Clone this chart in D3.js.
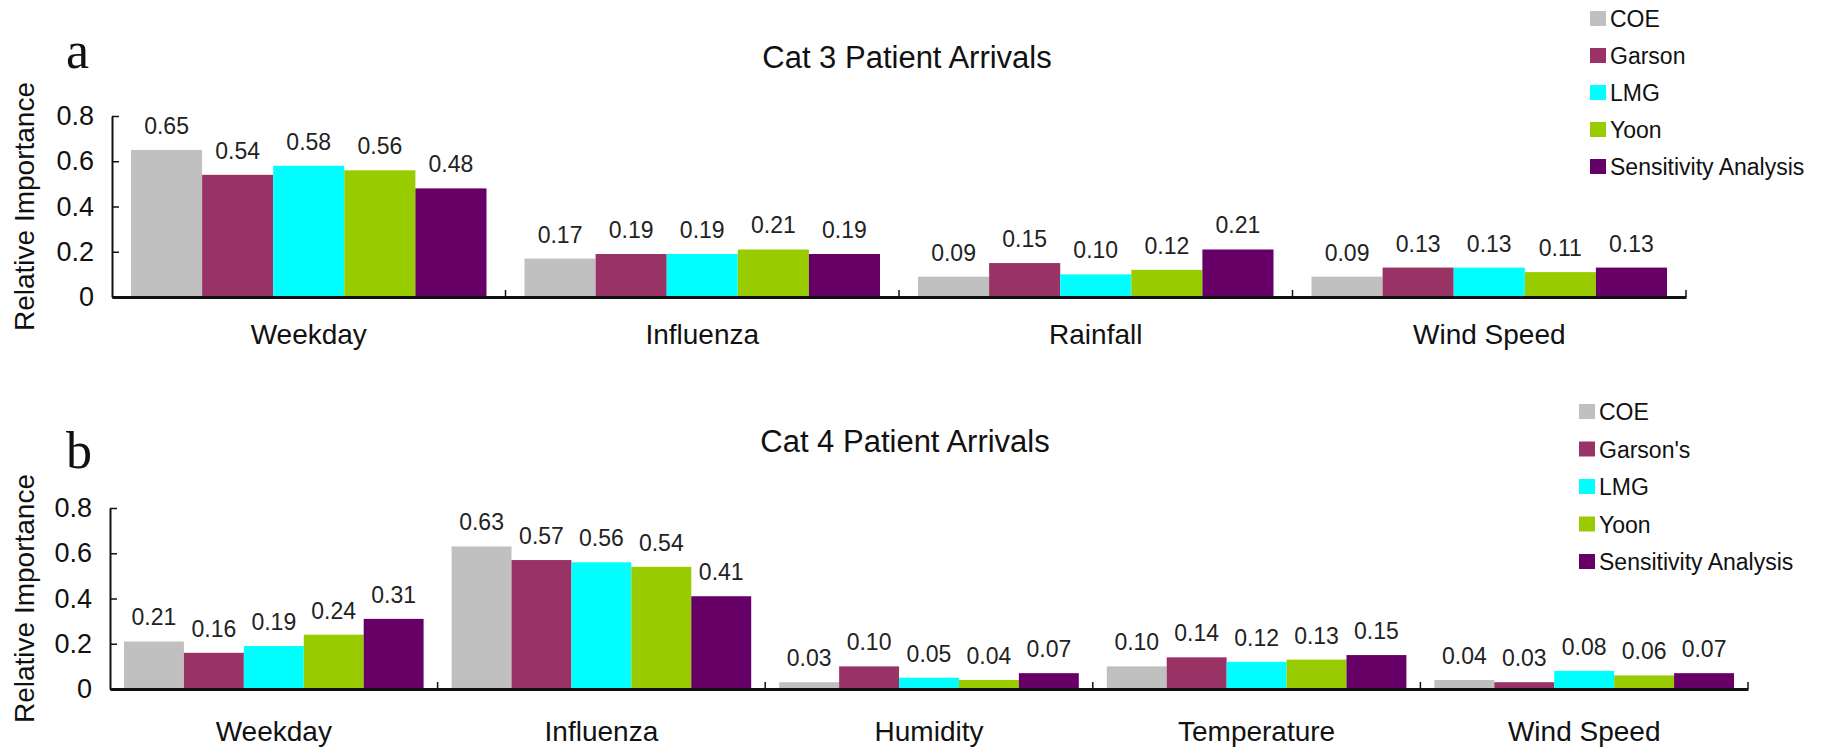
<!DOCTYPE html>
<html>
<head>
<meta charset="utf-8">
<script src="https://cdn.jsdelivr.net/npm/d3@7"></script>
<style>
  html, body { margin: 0; padding: 0; background: #fff; }
  svg { display: block; font-family: Arial, "Liberation Sans", sans-serif; }
</style>
</head>
<body>
<svg id="chart" width="1829" height="749"></svg>
<script>
// Relative importance of predictors, five methods, two arrival categories
const methods = ["COE", "Garson", "LMG", "Yoon", "Sensitivity Analysis"];
const methodsB = ["COE", "Garson's", "LMG", "Yoon", "Sensitivity Analysis"];
const methodColors = ["#c0c0c0", "#993366", "#00ffff", "#99cc00", "#660066"];
const yTicks = [0, 0.2, 0.4, 0.6, 0.8];

// Cat 3 patient arrivals
const cat3Factors = ["Weekday", "Influenza", "Rainfall", "Wind Speed"];
const cat3COE    = [0.65, 0.17, 0.09, 0.09];
const cat3Garson = [0.54, 0.19, 0.15, 0.13];
const cat3LMG    = [0.58, 0.19, 0.10, 0.13];
const cat3Yoon   = [0.56, 0.21, 0.12, 0.11];
const cat3SA     = [0.48, 0.19, 0.21, 0.13];

// Cat 4 patient arrivals
const cat4Factors = ["Weekday", "Influenza", "Humidity", "Temperature", "Wind Speed"];
const cat4COE    = [0.21, 0.63, 0.03, 0.10, 0.04];
const cat4Garson = [0.16, 0.57, 0.10, 0.14, 0.03];
const cat4LMG    = [0.19, 0.56, 0.05, 0.12, 0.08];
const cat4Yoon   = [0.24, 0.54, 0.04, 0.13, 0.06];
const cat4SA     = [0.31, 0.41, 0.07, 0.15, 0.07];

const svg = d3.select("#chart");
const fmt = d3.format(".2f");

function drawPanel(p) {
  const g = svg.append("g");
  const x = d3.scaleBand().domain(p.factors).range([p.x0, p.x1]).padding(0);
  const xi = d3.scaleBand().domain(d3.range(p.series.length))
    .range([p.pad, x.bandwidth() - p.pad]).padding(0);
  const y = d3.scaleLinear().domain([0, 0.8]).range([p.yBase, p.yTop]);

  // bars and value labels
  p.series.forEach((vals, si) => {
    const sg = g.append("g");
    sg.selectAll("rect").data(vals).join("rect")
      .attr("x", (d, i) => x(p.factors[i]) + xi(si))
      .attr("y", d => y(d))
      .attr("width", xi.bandwidth())
      .attr("height", d => y(0) - y(d))
      .attr("fill", methodColors[si]);
    sg.selectAll("text").data(vals).join("text")
      .attr("x", (d, i) => x(p.factors[i]) + xi(si) + xi.bandwidth() / 2)
      .attr("y", d => y(d) - 16)
      .attr("text-anchor", "middle")
      .attr("font-size", 23)
      .attr("fill", "#222")
      .text(d => fmt(d));
  });

  // y axis with inward ticks
  const yAxis = d3.axisLeft(y).tickValues(yTicks)
    .tickFormat(d => d === 0 ? "0" : d3.format(".1f")(d))
    .tickSizeInner(-7).tickSizeOuter(0).tickPadding(18);
  const ya = g.append("g").attr("transform", `translate(${p.x0},0)`).call(yAxis);
  ya.select(".domain").attr("stroke", "#111").attr("stroke-width", 2);
  ya.selectAll(".tick line").attr("stroke", "#111").attr("stroke-width", 1.5);
  ya.selectAll(".tick text").attr("font-size", 27).attr("fill", "#111")
    .attr("font-family", "Arial, 'Liberation Sans', sans-serif");

  // x axis: baseline, boundary ticks and category names
  const xAxis = d3.axisBottom(x).tickSize(0).tickPadding(0);
  const xa = g.append("g").attr("transform", `translate(0,${p.yBase})`).call(xAxis);
  xa.select(".domain").attr("stroke", "#111").attr("stroke-width", 3);
  xa.selectAll(".tick text")
    .attr("font-size", 28).attr("fill", "#111")
    .attr("font-family", "Arial, 'Liberation Sans', sans-serif")
    .attr("dy", 0).attr("y", p.labelDy);
  const bounds = p.factors.slice(1).map(f => x(f)).concat([p.x1]);
  g.selectAll("line.bound").data(bounds).join("line")
    .attr("class", "bound")
    .attr("x1", d => d).attr("x2", d => d)
    .attr("y1", p.yBase).attr("y2", p.yBase - 7)
    .attr("stroke", "#111").attr("stroke-width", 1.5);

  // y title
  g.append("text")
    .attr("transform", `translate(${p.yTitleX},${(p.yBase + p.yTop) / 2}) rotate(-90)`)
    .attr("text-anchor", "middle")
    .attr("font-size", 28).attr("fill", "#111")
    .text("Relative Importance");

  // chart title and panel letter
  g.append("text").attr("x", p.titleX).attr("y", p.titleY)
    .attr("text-anchor", "middle").attr("font-size", 31).attr("fill", "#111")
    .text(p.title);
  g.append("text").attr("x", p.letterX).attr("y", p.letterY)
    .attr("font-family", "'Liberation Serif', 'Times New Roman', serif")
    .attr("font-size", 52).attr("fill", "#111")
    .text(p.letter);

  // legend
  const lg = g.append("g");
  p.names.forEach((name, i) => {
    const yy = p.legendY + i * p.legendStep;
    lg.append("rect").attr("x", p.legendX).attr("y", yy - 16)
      .attr("width", 16).attr("height", 15).attr("fill", methodColors[i]);
    lg.append("text").attr("x", p.legendX + 20).attr("y", yy)
      .attr("font-size", 23).attr("fill", "#111").text(name);
  });
}

drawPanel({
  factors: cat3Factors,
  series: [cat3COE, cat3Garson, cat3LMG, cat3Yoon, cat3SA],
  names: methods,
  x0: 112, x1: 1686, pad: 19, yBase: 297, yTop: 116,
  labelDy: 47, yTitleX: 34,
  title: "Cat 3 Patient Arrivals", titleX: 907, titleY: 68,
  letter: "a", letterX: 66, letterY: 68,
  legendX: 1590, legendY: 27, legendStep: 37
});

drawPanel({
  factors: cat4Factors,
  series: [cat4COE, cat4Garson, cat4LMG, cat4Yoon, cat4SA],
  names: methodsB,
  x0: 110, x1: 1748, pad: 14, yBase: 689, yTop: 508,
  labelDy: 52, yTitleX: 34,
  title: "Cat 4 Patient Arrivals", titleX: 905, titleY: 452,
  letter: "b", letterX: 66, letterY: 468,
  legendX: 1579, legendY: 420, legendStep: 37.5
});
</script>
</body>
</html>
